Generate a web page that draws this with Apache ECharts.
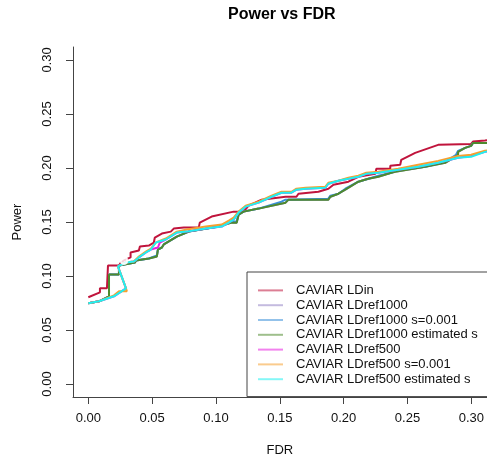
<!DOCTYPE html>
<html>
<head>
<meta charset="utf-8">
<script src="https://cdn.jsdelivr.net/npm/echarts@6/dist/echarts.min.js"></script>
<style>html,body{margin:0;padding:0;background:#fff}#c{width:487px;height:462px}</style>
</head>
<body>
<div id="c"></div>
<script>
var seriesNames = ['CAVIAR LDin','CAVIAR LDref1000','CAVIAR LDref1000 s=0.001','CAVIAR LDref1000 estimated s','CAVIAR LDref500','CAVIAR LDref500 s=0.001','CAVIAR LDref500 estimated s'];
var xTicks = [0, 0.05, 0.10, 0.15, 0.20, 0.25, 0.30];
var yTicks = [0, 0.05, 0.10, 0.15, 0.20, 0.25, 0.30];

var ldin = [[0,0.0803],[0.0091,0.0849],[0.0091,0.0886],[0.0146,0.0886],[0.0154,0.1098],[0.0240,0.1098],[0.0255,0.1125],[0.0279,0.1144],[0.0331,0.1172],[0.0331,0.1218],[0.0396,0.1236],[0.0404,0.1273],[0.0474,0.1282],[0.0513,0.1310],[0.0521,0.1356],[0.0576,0.1393],[0.0646,0.1411],[0.0669,0.1439],[0.0748,0.1448],[0.0865,0.1448],[0.0873,0.1494],[0.0966,0.1550],[0.1138,0.1596],[0.1216,0.1596],[0.1256,0.1651],[0.1357,0.1707],[0.1545,0.1734],[0.1630,0.1734],[0.1646,0.1762],[0.1802,0.1780],[0.1880,0.1808],[0.1920,0.1845],[0.2037,0.1873],[0.2115,0.1919],[0.2248,0.1946],[0.2256,0.1993],[0.2365,0.1993],[0.2365,0.2020],[0.2443,0.2030],[0.2451,0.2076],[0.2529,0.2122],[0.2560,0.2140],[0.2740,0.2214],[0.2998,0.2223],[0.3013,0.2245],[0.3107,0.2254],[0.3150,0.2262]];
var ldref1000 = [[0,0.0747],[0.0084,0.0766],[0.0162,0.0812],[0.0162,0.1015],[0.0240,0.1015],[0.0240,0.1098],[0.0365,0.1125],[0.0373,0.1144],[0.0474,0.1162],[0.0537,0.1181],[0.0545,0.1245],[0.0576,0.1264],[0.0591,0.1292],[0.0693,0.1365],[0.0787,0.1411],[0.1021,0.1458],[0.1123,0.1494],[0.1162,0.1494],[0.1177,0.1568],[0.1216,0.1596],[0.1334,0.1624],[0.1545,0.1679],[0.1568,0.1707],[0.1880,0.1707],[0.1896,0.1734],[0.1959,0.1762],[0.2013,0.1799],[0.2115,0.1873],[0.2193,0.1900],[0.2271,0.1919],[0.2373,0.1956],[0.2404,0.1965],[0.2638,0.2011],[0.2795,0.2048],[0.2896,0.2122],[0.2896,0.2149],[0.2951,0.2186],[0.2998,0.2205],[0.3013,0.2232],[0.3150,0.2232]];
var ldref1000s001 = [[0,0.0747],[0.0084,0.0766],[0.0162,0.0812],[0.0162,0.1015],[0.0240,0.1015],[0.0240,0.1098],[0.0365,0.1125],[0.0373,0.1144],[0.0474,0.1162],[0.0537,0.1190],[0.0545,0.1245],[0.0576,0.1264],[0.0591,0.1292],[0.0693,0.1365],[0.0787,0.1411],[0.1021,0.1458],[0.1123,0.1504],[0.1162,0.1504],[0.1177,0.1568],[0.1216,0.1596],[0.1334,0.1624],[0.1513,0.1688],[0.1545,0.1707],[0.1880,0.1716],[0.1896,0.1744],[0.1959,0.1762],[0.2013,0.1808],[0.2115,0.1873],[0.2193,0.1900],[0.2271,0.1928],[0.2373,0.1956],[0.2404,0.1974],[0.2638,0.2011],[0.2795,0.2057],[0.2880,0.2122],[0.2896,0.2159],[0.2951,0.2186],[0.2998,0.2205],[0.3013,0.2232],[0.3150,0.2232]];
var ldref1000est = [[0,0.0747],[0.0084,0.0766],[0.0162,0.0812],[0.0162,0.1015],[0.0240,0.1015],[0.0240,0.1098],[0.0365,0.1125],[0.0373,0.1144],[0.0474,0.1162],[0.0537,0.1181],[0.0545,0.1245],[0.0576,0.1264],[0.0591,0.1292],[0.0693,0.1365],[0.0787,0.1411],[0.1021,0.1458],[0.1123,0.1494],[0.1162,0.1494],[0.1177,0.1568],[0.1216,0.1596],[0.1334,0.1624],[0.1545,0.1679],[0.1568,0.1707],[0.1880,0.1707],[0.1896,0.1734],[0.1959,0.1762],[0.2013,0.1799],[0.2115,0.1873],[0.2193,0.1900],[0.2271,0.1919],[0.2373,0.1956],[0.2404,0.1965],[0.2638,0.2011],[0.2795,0.2048],[0.2896,0.2122],[0.2896,0.2149],[0.2951,0.2186],[0.2998,0.2205],[0.3013,0.2232],[0.3150,0.2232]];
var ldref500 = [[0,0.0747],[0.0084,0.0766],[0.0201,0.0812],[0.0295,0.0886],[0.0232,0.1089],[0.0295,0.1125],[0.0357,0.1135],[0.0396,0.1172],[0.0451,0.1218],[0.0490,0.1245],[0.0545,0.1264],[0.0560,0.1310],[0.0607,0.1338],[0.0693,0.1402],[0.0771,0.1411],[0.0920,0.1439],[0.1045,0.1458],[0.1100,0.1494],[0.1138,0.1522],[0.1177,0.1587],[0.1232,0.1642],[0.1334,0.1679],[0.1435,0.1734],[0.1513,0.1771],[0.1591,0.1771],[0.1630,0.1799],[0.1701,0.1808],[0.1857,0.1817],[0.1880,0.1854],[0.1959,0.1882],[0.2037,0.1900],[0.2115,0.1919],[0.2177,0.1946],[0.2271,0.1956],[0.2427,0.1983],[0.2584,0.2011],[0.2740,0.2048],[0.2896,0.2094],[0.2998,0.2112],[0.3107,0.2149],[0.3150,0.2159]];
var ldref500s001 = [[0,0.0747],[0.0084,0.0766],[0.0201,0.0821],[0.0240,0.0858],[0.0302,0.0858],[0.0295,0.0886],[0.0232,0.1089],[0.0295,0.1125],[0.0357,0.1135],[0.0396,0.1181],[0.0451,0.1227],[0.0490,0.1254],[0.0529,0.1310],[0.0607,0.1347],[0.0693,0.1411],[0.0771,0.1430],[0.0920,0.1458],[0.1045,0.1476],[0.1100,0.1513],[0.1138,0.1540],[0.1177,0.1596],[0.1232,0.1651],[0.1334,0.1688],[0.1435,0.1744],[0.1513,0.1780],[0.1591,0.1780],[0.1630,0.1808],[0.1701,0.1817],[0.1857,0.1827],[0.1880,0.1863],[0.1959,0.1882],[0.2037,0.1910],[0.2115,0.1928],[0.2177,0.1956],[0.2271,0.1965],[0.2427,0.1993],[0.2584,0.2030],[0.2740,0.2066],[0.2896,0.2112],[0.2998,0.2122],[0.3107,0.2159],[0.3150,0.2168]];
var ldref500est = [[0,0.0747],[0.0084,0.0766],[0.0201,0.0812],[0.0295,0.0886],[0.0232,0.1089],[0.0295,0.1125],[0.0357,0.1135],[0.0396,0.1172],[0.0451,0.1218],[0.0490,0.1245],[0.0529,0.1310],[0.0607,0.1338],[0.0693,0.1402],[0.0771,0.1411],[0.0920,0.1439],[0.1045,0.1458],[0.1100,0.1494],[0.1138,0.1522],[0.1177,0.1587],[0.1232,0.1642],[0.1334,0.1679],[0.1435,0.1734],[0.1513,0.1771],[0.1591,0.1771],[0.1630,0.1799],[0.1701,0.1808],[0.1857,0.1817],[0.1880,0.1854],[0.1959,0.1882],[0.2037,0.1900],[0.2115,0.1919],[0.2177,0.1946],[0.2271,0.1956],[0.2427,0.1983],[0.2584,0.2011],[0.2740,0.2048],[0.2896,0.2094],[0.2998,0.2103],[0.3107,0.2149],[0.3150,0.2159]];
var ldinMarker = [[0.0279,0.1144]];

var colors = ['#C0143C','#9484C4','#3A8FD8','#4E8A2E','#E81CE0','#F5A030','#20F0F0'];
var allData = [ldin, ldref1000, ldref1000s001, ldref1000est, ldref500, ldref500s001, ldref500est];

var series = seriesNames.map(function(n, i){
  return {name:n, type:'line', data:allData[i], symbol:'none', showSymbol:false,
    lineStyle:{color:colors[i], width:2}, itemStyle:{color:colors[i]}, clip:true, animation:false, z:2+i};
});
series.push({type:'scatter', data:ldinMarker, symbol:'emptyCircle', symbolSize:7,
  itemStyle:{color:'#fff', borderColor:'#D04060', borderWidth:1}, z:20, animation:false, silent:true});

var chart = echarts.init(document.getElementById('c'), null, {renderer:'canvas'});
var axisCol = '#444';
chart.setOption({
  animation:false,
  backgroundColor:'#fff',
  textStyle:{fontFamily:'Liberation Sans, Arial, sans-serif'},
  title:{text:'Power vs FDR', left:223, top:2, textStyle:{fontSize:16, fontWeight:'bold', color:'#000', fontFamily:'Liberation Sans, Arial, sans-serif'}},
  grid:{left:73, right:-2, top:47, bottom:64, containLabel:false},
  legend:{
    data:seriesNames, orient:'vertical', left:247, top:272, itemGap:0, itemWidth:25, itemHeight:2,
    icon:'rect', padding:[11,14,10,11], borderColor:axisCol, borderWidth:1, backgroundColor:'#fff',
    itemStyle:{opacity:0.55},
    textStyle:{fontSize:13, color:'#111', lineHeight:14.8, padding:[0,0,0,8], fontFamily:'Liberation Sans, Arial, sans-serif'},
    selectedMode:false, z:30
  },
  xAxis:{
    type:'value', min:-0.012, max:0.312, name:'FDR', nameLocation:'middle', nameGap:47,
    nameTextStyle:{fontSize:13, color:'#111'},
    axisLine:{show:true, onZero:false, lineStyle:{color:axisCol, width:1}},
    axisTick:{show:true, length:7, inside:false, customValues:xTicks, lineStyle:{color:axisCol}},
    axisLabel:{customValues:xTicks, fontSize:13, color:'#111', margin:15, formatter:function(v){return v.toFixed(2);}},
    splitLine:{show:false}
  },
  yAxis:{
    type:'value', min:-0.012, max:0.312, name:'Power', nameLocation:'middle', nameGap:49, nameRotate:90,
    nameTextStyle:{fontSize:13, color:'#111'},
    axisLine:{show:true, onZero:false, lineStyle:{color:axisCol, width:1}},
    axisTick:{show:true, length:7, inside:false, customValues:yTicks, lineStyle:{color:axisCol}},
    axisLabel:{customValues:yTicks, fontSize:13, color:'#111', margin:19, rotate:90, formatter:function(v){return v.toFixed(2);}},
    splitLine:{show:false}
  },
  series:series
});
</script>
</body>
</html>
